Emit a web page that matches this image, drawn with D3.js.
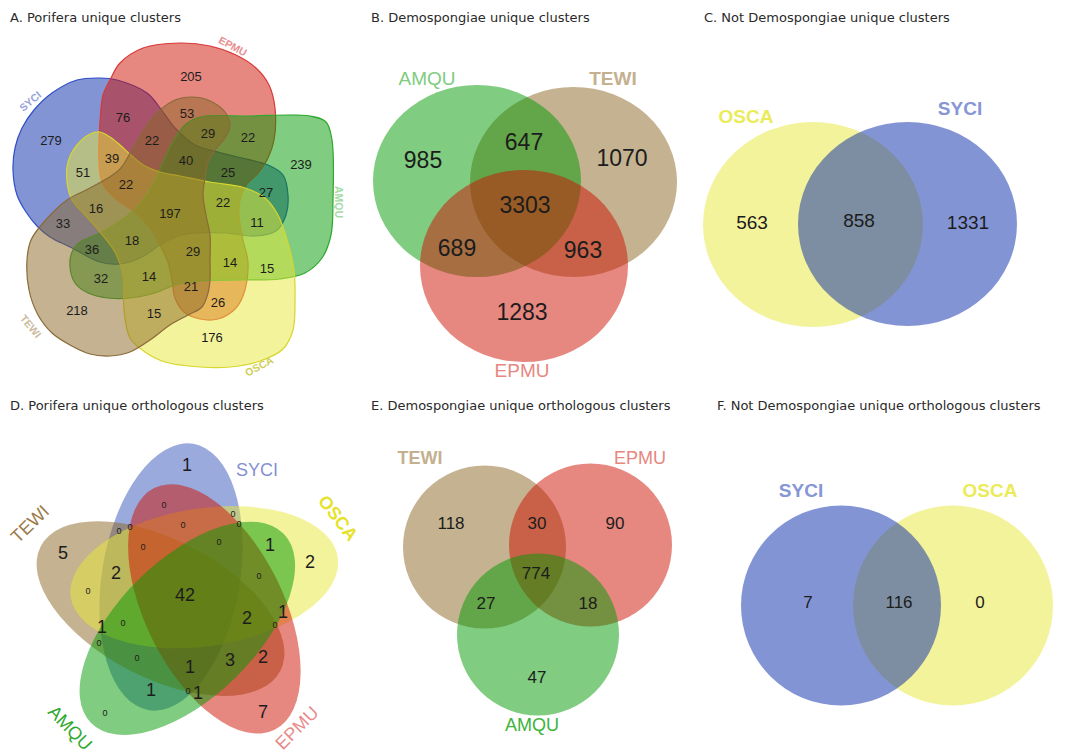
<!DOCTYPE html>
<html>
<head>
<meta charset="utf-8">
<script src="https://d3js.org/d3.v7.min.js"></script>
<style>
  body { margin: 0; background: #fff; }
  text { font-family: "Liberation Sans", Arial, sans-serif; }
  text.title { font-family: "DejaVu Sans", sans-serif; font-size: 13px; fill: #2a2a2a; }
</style>
</head>
<body>
<svg id="fig" width="1081" height="754"></svg>
<script>
// ---------------- data ----------------
const titles = ['A. Porifera unique clusters', 'B. Demospongiae unique clusters',
                'C. Not Demospongiae unique clusters', 'D. Porifera unique orthologous clusters',
                'E. Demospongiae unique orthologous clusters', 'F. Not Demospongiae unique orthologous clusters'];

// A: five-set diagram, region counts
const setsA = ['SYCI', 'EPMU', 'AMQU', 'OSCA', 'TEWI'];
const countsA = [205, 76, 53, 279, 22, 29, 22, 39, 40, 239, 51, 25, 22, 27, 16, 197,
                 22, 33, 11, 36, 18, 29, 14, 15, 32, 14, 21, 26, 218, 15, 176];

// B: three sets
const setsB = ['TEWI', 'AMQU', 'EPMU'];
const countsB = [985, 647, 1070, 3303, 689, 963, 1283];

// C: two sets
const setsC = ['OSCA', 'SYCI'];
const countsC = [563, 858, 1331];

// D: five-set ellipse diagram
const setsD = ['SYCI', 'TEWI', 'OSCA', 'EPMU', 'AMQU'];
const countsD = [1, 5, 2, 7, 42, 2, 1, 2, 1, 2, 3, 1, 1, 1, 1,
                 0, 0, 0, 0, 0, 0, 0, 0, 0, 0, 0, 0, 0, 0, 0, 0];

// E: three sets
const setsE = ['TEWI', 'EPMU', 'AMQU'];
const countsE = [118, 30, 90, 774, 27, 18, 47];

// F: two sets
const setsF = ['OSCA', 'SYCI'];
const countsF = [7, 116, 0];

// ---------------- layout ----------------
const svg = d3.select('svg#fig');

const panels = { A: [0, 0], B: [360, 0], C: [720, 0], D: [0, 390], E: [360, 390], F: [720, 390] };
function scalesFor(o) {
    return {
        x: d3.scaleLinear().domain([0, 360]).range([o[0], o[0] + 360]),
        y: d3.scaleLinear().domain([0, 364]).range([o[1], o[1] + 364])
    };
}

const fillBase = { SYCI: '#0729a9', EPMU: '#cd0f01', AMQU: '#019901', OSCA: '#e7e737', TEWI: '#896523' };
const numColour = '#1c1c1c';

const titleSpots = [[10, 21.5], [371, 21.5], [704, 21.5], [10, 409.5], [371, 409.5], [717, 409.5]];
svg.selectAll('text.title').data(titles).join('text')
   .attr('class', 'title')
   .attr('x', (d, i) => titleSpots[i][0])
   .attr('y', (d, i) => titleSpots[i][1])
   .text(d => d);

function numbers(g, sc, counts, spots, size) {
    g.selectAll('text.num').data(counts).join('text')
     .attr('class', 'num')
     .attr('x', (d, i) => sc.x(spots[i][0]))
     .attr('y', (d, i) => sc.y(spots[i][1]))
     .attr('text-anchor', 'middle')
     .attr('dominant-baseline', 'central')
     .attr('font-size', d => typeof size === 'function' ? size(d) : size)
     .attr('fill', numColour)
     .text(d => d);
}

function setLabels(g, sc, sets, spec, size) {
    g.selectAll('text.lab').data(sets).join('text')
     .attr('class', 'lab')
     .attr('transform', s => `translate(${sc.x(spec[s][0])},${sc.y(spec[s][1])}) rotate(${spec[s][2] || 0})`)
     .attr('text-anchor', 'middle')
     .attr('dominant-baseline', 'central')
     .attr('font-size', size)
     .attr('font-weight', s => spec[s][4] ? 'bold' : 'normal')
     .attr('fill', s => spec[s][3])
     .text(s => s);
}

// ---------- A ----------
const outlineA = {
    SYCI: [[77,80],[100,78],[117,80],[147,93],[163,112],[175,128],[195,145],[218,152],[242,158],[268,165],[283,175],[288,195],[286,215],[276,231],[255,236],[226,233],[200,233],[181,235],[160,245],[140,258],[120,264],[100,262],[70,247],[50,237],[37,226],[26,212],[17,195],[13,170],[15,148],[22,128],[34,110],[52,93]],
    EPMU: [[100,122],[103,95],[110,80],[120,63],[143,48],[180,43],[210,46],[236,55],[256,68],[269,85],[275,108],[274,140],[268,158],[258,173],[247,184],[240,200],[239,215],[243,240],[248,262],[245,290],[236,308],[218,319],[200,319],[184,312],[175,298],[172,280],[168,262],[160,245],[150,228],[135,212],[115,198],[102,182],[99,160]],
    AMQU: [[200,117],[250,116],[310,116],[326,122],[332,140],[333,200],[331,235],[322,258],[305,273],[280,279],[240,280],[200,281],[175,285],[155,293],[130,298],[108,298],[88,293],[75,283],[70,267],[72,252],[80,242],[100,233],[127,216],[143,200],[155,180],[165,158],[175,138],[186,124]],
    OSCA: [[100,132],[110,137],[120,145],[132,156],[145,166],[160,172],[180,176],[210,182],[245,188],[265,198],[278,215],[288,243],[294,270],[295,300],[293,330],[283,349],[260,361],[230,367],[200,367],[165,362],[145,352],[130,338],[124,310],[123,275],[115,252],[100,232],[85,215],[72,200],[67,182],[68,162],[77,145],[90,134]],
    TEWI: [[175,100],[192,97],[208,100],[225,112],[230,125],[225,138],[215,150],[208,162],[205,178],[203,195],[206,215],[210,235],[210,260],[210,280],[208,293],[202,307],[188,315],[170,325],[150,340],[130,352],[110,356],[90,354],[70,345],[52,333],[38,315],[29,290],[27,260],[31,240],[43,223],[67,200],[90,188],[119,170],[133,148],[145,128],[158,112]]
};
const edgeA = { SYCI: '#2f4fc8', EPMU: '#d93a3a', AMQU: '#2fa82f', OSCA: '#d6d62e', TEWI: '#8a6a3a' };
const spotsA = [[191,76],[123,117],[187,113],[51,140],[152,140],[208,133],[248,137],[112,158],[186,160],[301,164],
                [83,172],[228,172],[126,184],[266,192],[96,208],[170,213],[223,202],[63,223],[257,222],[92,249],
                [132,240],[193,251],[230,262],[267,268],[101,278],[149,276],[191,286],[218,302],[77,310],[154,313],[212,337]];
const labelA = { SYCI: [30,101,-40,'#97a2de',1], EPMU: [233,46,28,'#e98e8e',1], AMQU: [339,202,90,'#a6daa6',1],
                 OSCA: [259,366,-28,'#cfcf55',1], TEWI: [31,326,50,'#cdb99c',1] };

const sA = scalesFor(panels.A);
const gA = svg.append('g');
const blob = d3.line().x(d => sA.x(d[0])).y(d => sA.y(d[1])).curve(d3.curveCatmullRomClosed.alpha(0.5));
gA.selectAll('path.blob').data(setsA).join('path')
  .attr('class', 'blob')
  .attr('d', s => blob(outlineA[s]))
  .attr('fill', s => fillBase[s]).attr('fill-opacity', 0.5)
  .attr('stroke', s => edgeA[s]).attr('stroke-width', 1.2);
numbers(gA, sA, countsA, spotsA, 13);
setLabels(gA, sA, setsA, labelA, 10.5);

// ---------- B ----------
const circB = { AMQU: [117,181,104,96], TEWI: [213.5,182,103.5,95], EPMU: [164,266,104,96] };
const spotsB = [[63,160],[164,142],[262,158],[165,205],[97,248],[223,250],[162,312]];
const labelB = { AMQU: [67,78,0,'#80cc80',0], TEWI: [253,78,0,'#c4b08f',1], EPMU: [162,370,0,'#e68780',0] };
const sB = scalesFor(panels.B);
const gB = svg.append('g');
gB.selectAll('ellipse').data(setsB).join('ellipse')
  .attr('cx', s => sB.x(circB[s][0])).attr('cy', s => sB.y(circB[s][1]))
  .attr('rx', s => circB[s][2]).attr('ry', s => circB[s][3])
  .attr('fill', s => fillBase[s]).attr('fill-opacity', 0.5);
numbers(gB, sB, countsB, spotsB, 23);
setLabels(gB, sB, setsB, labelB, 19);

// ---------- C ----------
const circC = { OSCA: [93,224.5,110,102.5], SYCI: [187.5,224,109.5,102] };
const spotsC = [[32,222],[139,220],[248,222]];
const labelC = { OSCA: [26,116,0,'#ebeb5a',1], SYCI: [240,108,0,'#8796d4',1] };
const sC = scalesFor(panels.C);
const gC = svg.append('g');
gC.selectAll('ellipse').data(setsC).join('ellipse')
  .attr('cx', s => sC.x(circC[s][0])).attr('cy', s => sC.y(circC[s][1]))
  .attr('rx', s => circC[s][2]).attr('ry', s => circC[s][3])
  .attr('fill', s => fillBase[s]).attr('fill-opacity', 0.5);
numbers(gC, sC, countsC, spotsC, 19);
setLabels(gC, sC, setsC, labelC, 19);

// ---------- D ----------
const ellD = { centre: [187.5, 210], offset: [-16.5, -23], a: 135, b: 69, tilt: -80.5 };
const turnD = { SYCI: 0, OSCA: 1, EPMU: 2, AMQU: 3, TEWI: 4 };
const fillD = Object.assign({}, fillBase, { SYCI: '#3755b9' });
const spotsD = [[187,75],[63,163],[310,172],[263,322],[185,205],[116,183],[270,155],[247,228],[283,222],[263,267],
                [230,270],[190,277],[151,300],[198,303],[102,237],
                [164,115],[119,141],[130,137],[183,135],[143,157],[233,124],[239,134],[219,152],[259,186],[88,201],
                [123,233],[275,235],[99,253],[137,268],[188,301],[105,323]];
const labelD = { SYCI: [257,80,0,'#8590d2',0], OSCA: [338,128,52,'#e6e22a',1], TEWI: [30,134,-44,'#9c7a4a',0],
                 AMQU: [70,338,46,'#2ea82e',0], EPMU: [297,338,-45,'#e88a8a',0] };
const sD = scalesFor(panels.D);
const gD = svg.append('g');
gD.selectAll('ellipse').data(setsD).join('ellipse')
  .attr('rx', ellD.a).attr('ry', ellD.b)
  .attr('transform', s => {
      const t = turnD[s] * 72 * Math.PI / 180;
      const ox = ellD.offset[0] * Math.cos(t) - ellD.offset[1] * Math.sin(t);
      const oy = ellD.offset[0] * Math.sin(t) + ellD.offset[1] * Math.cos(t);
      return `translate(${sD.x(ellD.centre[0] + ox)},${sD.y(ellD.centre[1] + oy)}) rotate(${ellD.tilt + turnD[s] * 72})`;
  })
  .attr('fill', s => fillD[s]).attr('fill-opacity', 0.5);
numbers(gD, sD, countsD, spotsD, d => d === 0 ? 9 : 18);
setLabels(gD, sD, setsD, labelD, 18);

// ---------- E ----------
const circE = { TEWI: [124.5,157,81.5], EPMU: [230.5,155,81.5], AMQU: [178,244.5,81] };
const spotsE = [[91,133],[177,133],[255,133],[176,183],[126,213],[228,213],[177,287]];
const labelE = { TEWI: [60,68,0,'#c4b08f',1], EPMU: [280,68,0,'#e68780',0], AMQU: [172,335,0,'#3cb43c',0] };
const sE = scalesFor(panels.E);
const gE = svg.append('g');
gE.selectAll('circle').data(setsE).join('circle')
  .attr('cx', s => sE.x(circE[s][0])).attr('cy', s => sE.y(circE[s][1]))
  .attr('r', s => circE[s][2])
  .attr('fill', s => fillBase[s]).attr('fill-opacity', 0.5);
numbers(gE, sE, countsE, spotsE, 17);
setLabels(gE, sE, setsE, labelE, 18);

// ---------- F ----------
const circF = { SYCI: [121,215.5,100], OSCA: [233,215.5,100] };
const spotsF = [[88,212],[179,212],[260,212]];
const labelF = { SYCI: [81,100,0,'#8796d4',1], OSCA: [270,100,0,'#ebeb5a',1] };
const sF = scalesFor(panels.F);
const gF = svg.append('g');
gF.selectAll('circle').data(setsF).join('circle')
  .attr('cx', s => sF.x(circF[s][0])).attr('cy', s => sF.y(circF[s][1]))
  .attr('r', s => circF[s][2])
  .attr('fill', s => fillBase[s]).attr('fill-opacity', 0.5);
numbers(gF, sF, countsF, spotsF, 17);
setLabels(gF, sF, setsF, labelF, 19);
</script>
</body>
</html>
